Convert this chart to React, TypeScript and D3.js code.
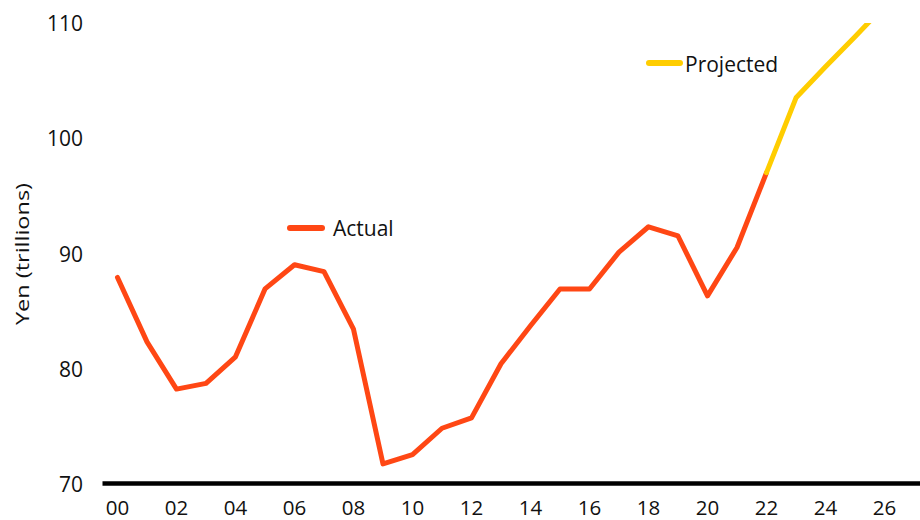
import React from "react";
import * as d3 from "d3";

const actualYears = [0, 1, 2, 3, 4, 5, 6, 7, 8, 9, 10, 11, 12, 13, 14, 15, 16, 17, 18, 19, 20, 21, 22];
const actualValues = [87.9, 82.3, 78.2, 78.7, 81.0, 86.9, 89.0, 88.4, 83.4, 71.7, 72.5, 74.8, 75.7, 80.4, 83.7, 86.9, 86.9, 90.1, 92.3, 91.5, 86.3, 90.5, 97.0];
const projectedYears = [22, 23, 24, 25, 26];
const projectedValues = [97.0, 103.5, 106.2, 108.8, 111.5];
const xTicks = [0, 2, 4, 6, 8, 10, 12, 14, 16, 18, 20, 22, 24, 26];
const yTicks = [70, 80, 90, 100, 110];
const yTitle = "Yen (trillions)";
const legendActual = "Actual";
const legendProjected = "Projected";

const W = 920;
const H = 520;
const FONT = "'Open Sans', sans-serif";
const RED = "#ff4714";
const YELLOW = "#ffcd00";

export default function App() {
  const x = d3.scaleLinear().domain([0, 26]).range([117.5, 884.5]);
  const y = d3.scaleLinear().domain([70, 110]).range([483.5, 23]);
  const line = d3
    .line<[number, number]>()
    .x((d) => x(d[0]))
    .y((d) => y(d[1]));
  const actual: [number, number][] = actualYears.map((yr, i) => [yr, actualValues[i]]);
  const projected: [number, number][] = projectedYears.map((yr, i) => [yr, projectedValues[i]]);
  const pad = (v: number) => (v < 10 ? "0" + v : String(v));

  return (
    <svg
      width={W}
      height={H}
      style={{ position: "absolute", left: 0, top: 0, display: "block" }}
      fontFamily={FONT}
    >
      <defs>
        <clipPath id="plot">
          <rect x={0} y={y(110)} width={W} height={H} />
        </clipPath>
      </defs>
      <rect width={W} height={H} fill="#fff" />
      {yTicks.map((t) => (
        <text key={t} x={83} y={y(t) + 8.3} textAnchor="end" fontSize={21} fill="#111">
          {t}
        </text>
      ))}
      <text
        transform={`translate(28.5, 254) rotate(-90)`}
        textAnchor="middle"
        fontSize={19}
        fill="#111"
        textLength={142}
        lengthAdjust="spacingAndGlyphs"
      >
        {yTitle}
      </text>
      {xTicks.map((t) => (
        <text key={t} x={x(t)} y={514.5} textAnchor="middle" fontSize={20.5} fill="#111">
          {pad(t)}
        </text>
      ))}
      <line x1={102.5} x2={W} y1={483.5} y2={483.5} stroke="#000" strokeWidth={4.5} />
      <g clipPath="url(#plot)">
        <path d={line(actual) || ""} fill="none" stroke={RED} strokeWidth={5} strokeLinejoin="round" strokeLinecap="round" />
        <path d={line(projected) || ""} fill="none" stroke={YELLOW} strokeWidth={5} strokeLinejoin="round" strokeLinecap="round" />
      </g>
      <line x1={290} x2={322} y1={228} y2={228} stroke={RED} strokeWidth={6} strokeLinecap="round" />
      <text x={333} y={236} fontSize={21} fill="#111">
        {legendActual}
      </text>
      <line x1={649} x2={680} y1={63} y2={63} stroke={YELLOW} strokeWidth={6} strokeLinecap="round" />
      <text x={685} y={72.3} fontSize={21} fill="#111">
        {legendProjected}
      </text>
    </svg>
  );
}
